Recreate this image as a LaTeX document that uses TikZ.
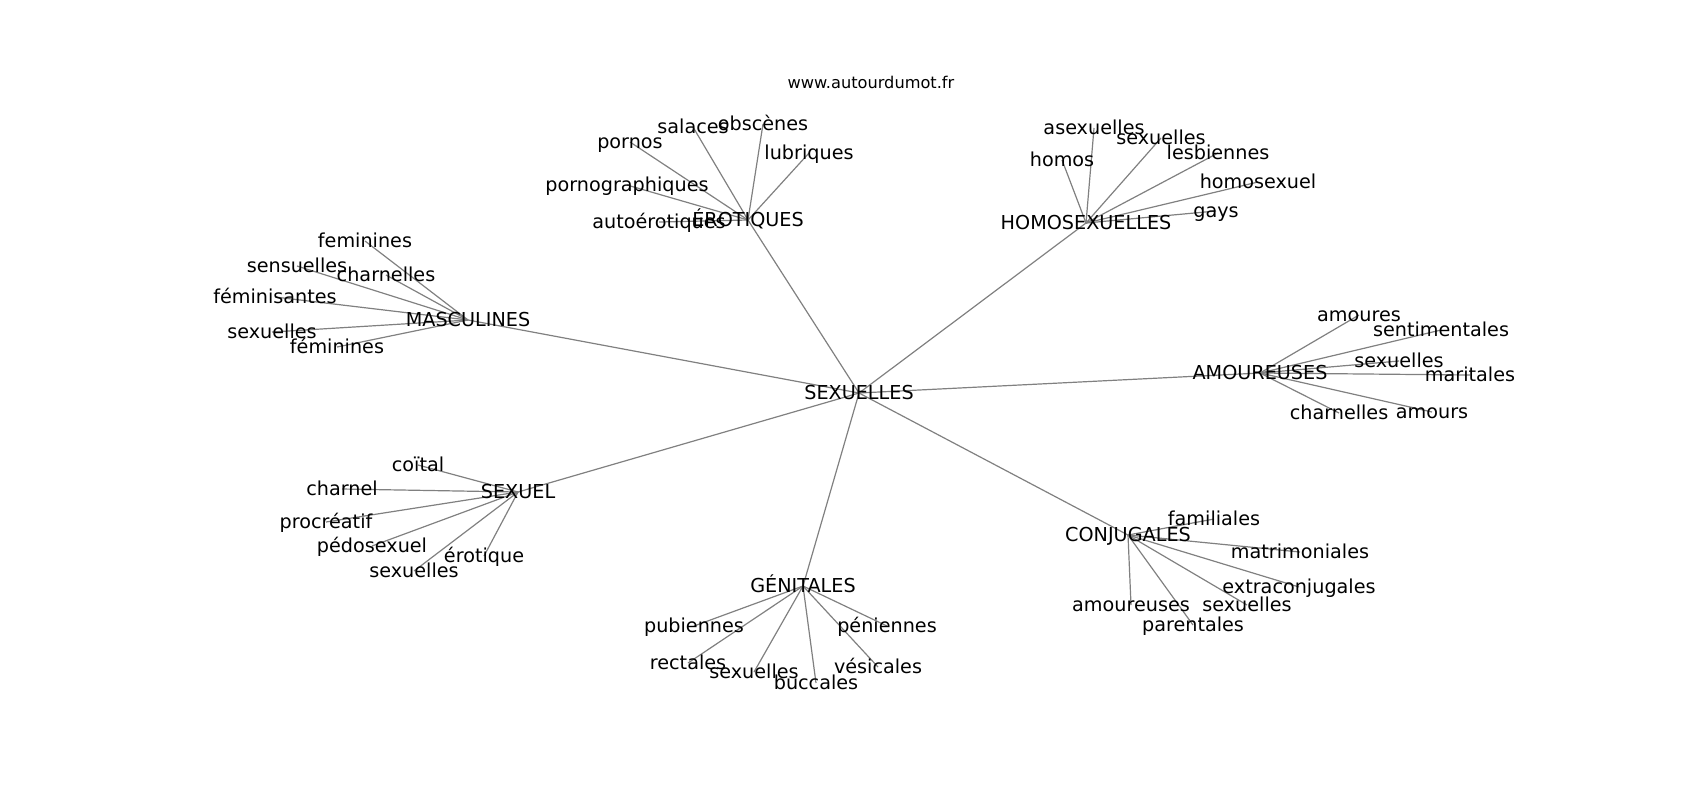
\documentclass[tikz,border=0pt]{standalone}
\usepackage{fontspec}
\setmainfont{DejaVu Sans}
\usetikzlibrary{backgrounds}
\begin{document}
\begin{tikzpicture}[x=0.5pt,y=-0.5pt,
  lbl/.style={anchor=base,inner sep=0pt,text height=0.8em,text depth=0.2em,
    font=\fontsize{9.6pt}{11pt}\selectfont,text=black},
  web/.style={anchor=base,inner sep=0pt,font=\fontsize{8.1pt}{10pt}\selectfont,text=black},
  edge/.style={draw=black!50,line width=0.6pt}]
\useasboundingbox (0,0) rectangle (1700,800);
\node[web] (site) at (871,88) {www.autourdumot.fr};
% hubs
\node[lbl] (c) at (859,399) {SEXUELLES};
\node[lbl] (ero) at (748,226) {ÉROTIQUES};
\node[lbl] (homo) at (1086,229) {HOMOSEXUELLES};
\node[lbl] (masc) at (468,326) {MASCULINES};
\node[lbl] (amou) at (1260,379) {AMOUREUSES};
\node[lbl] (sexuel) at (518,498) {SEXUEL};
\node[lbl] (geni) at (803,592) {GÉNITALES};
\node[lbl] (conj) at (1128,541) {CONJUGALES};
% ÉROTIQUES leaves
\node[lbl] (e1) at (693,133) {salaces};
\node[lbl] (e2) at (763,130) {obscènes};
\node[lbl] (e3) at (630,148) {pornos};
\node[lbl] (e4) at (809,159) {lubriques};
\node[lbl] (e5) at (627,191) {pornographiques};
\node[lbl] (e6) at (659,228) {autoérotiques};
% HOMOSEXUELLES leaves
\node[lbl] (h1) at (1094,134) {asexuelles};
\node[lbl] (h2) at (1161,144) {sexuelles};
\node[lbl] (h3) at (1062,166) {homos};
\node[lbl] (h4) at (1218,159) {lesbiennes};
\node[lbl] (h5) at (1258,188) {homosexuel};
\node[lbl] (h6) at (1216,217) {gays};
% MASCULINES leaves
\node[lbl] (m1) at (365,247) {feminines};
\node[lbl] (m2) at (297,272) {sensuelles};
\node[lbl] (m3) at (386,281) {charnelles};
\node[lbl] (m4) at (275,303) {féminisantes};
\node[lbl] (m5) at (272,338) {sexuelles};
\node[lbl] (m6) at (337,353) {féminines};
% AMOUREUSES leaves
\node[lbl] (a1) at (1359,321) {amoures};
\node[lbl] (a2) at (1441,336) {sentimentales};
\node[lbl] (a3) at (1399,367) {sexuelles};
\node[lbl] (a4) at (1470,381) {maritales};
\node[lbl] (a5) at (1339,419) {charnelles};
\node[lbl] (a6) at (1432,418) {amours};
% SEXUEL leaves
\node[lbl] (s1) at (418,471) {coïtal};
\node[lbl] (s2) at (342,495) {charnel};
\node[lbl] (s3) at (326,528) {procréatif};
\node[lbl] (s4) at (372,552) {pédosexuel};
\node[lbl] (s5) at (484,562) {érotique};
\node[lbl] (s6) at (414,577) {sexuelles};
% GÉNITALES leaves
\node[lbl] (g1) at (694,632) {pubiennes};
\node[lbl] (g2) at (887,632) {péniennes};
\node[lbl] (g3) at (688,669) {rectales};
\node[lbl] (g4) at (754,678) {sexuelles};
\node[lbl] (g5) at (878,673) {vésicales};
\node[lbl] (g6) at (816,689) {buccales};
% CONJUGALES leaves
\node[lbl] (k1) at (1214,525) {familiales};
\node[lbl] (k2) at (1300,558) {matrimoniales};
\node[lbl] (k3) at (1299,593) {extraconjugales};
\node[lbl] (k4) at (1131,611) {amoureuses};
\node[lbl] (k5) at (1247,611) {sexuelles};
\node[lbl] (k6) at (1193,631) {parentales};
\begin{scope}[on background layer]
\foreach \h in {ero,homo,masc,amou,sexuel,geni,conj}
  \draw[edge] (c.center) -- (\h.center);
\foreach \l in {e1,e2,e3,e4,e5,e6} \draw[edge] (ero.center) -- (\l.center);
\foreach \l in {h1,h2,h3,h4,h5,h6} \draw[edge] (homo.center) -- (\l.center);
\foreach \l in {m1,m2,m3,m4,m5,m6} \draw[edge] (masc.center) -- (\l.center);
\foreach \l in {a1,a2,a3,a4,a5,a6} \draw[edge] (amou.center) -- (\l.center);
\foreach \l in {s1,s2,s3,s4,s5,s6} \draw[edge] (sexuel.center) -- (\l.center);
\foreach \l in {g1,g2,g3,g4,g5,g6} \draw[edge] (geni.center) -- (\l.center);
\foreach \l in {k1,k2,k3,k4,k5,k6} \draw[edge] (conj.center) -- (\l.center);
\end{scope}
\end{tikzpicture}
\end{document}
